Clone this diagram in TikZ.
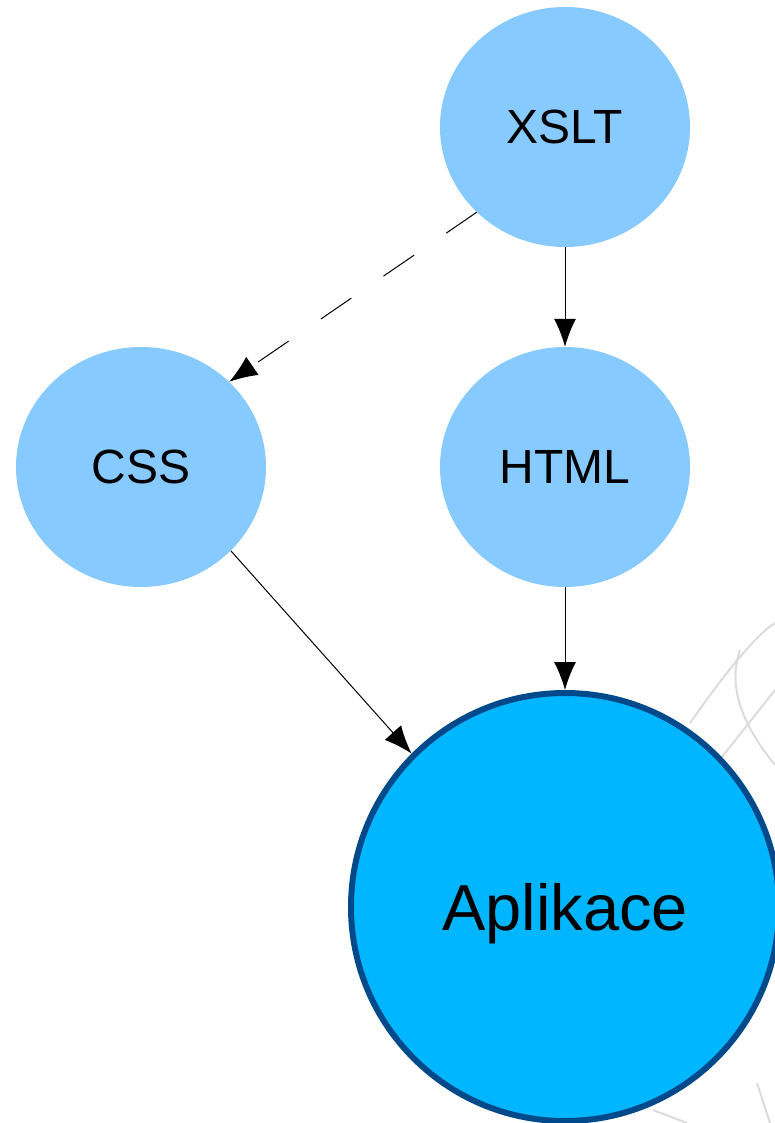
\documentclass[tikz,border=0pt]{standalone}
\usepackage{fontspec}
\setmainfont{Liberation Sans}
\usetikzlibrary{arrows.meta, shapes.geometric}
\definecolor{lightblue}{RGB}{135,202,255}
\definecolor{appblue}{RGB}{0,183,255}
\definecolor{darkblue}{RGB}{0,74,140}
\tikzset{>={Latex[length=28pt,width=22pt]}}
\tikzset{
  bubble/.style={ellipse, fill=lightblue, minimum width=250pt, minimum height=240pt,
    inner sep=0pt, font=\fontsize{48}{52}\selectfont},
  appnode/.style={circle, fill=appblue, draw=darkblue, line width=6pt, minimum size=428pt,
    inner sep=0pt, text depth=0pt, font=\fontsize{65}{70}\selectfont},
  sketch/.style={draw=black!14, line width=2pt},
  link/.style={->, line width=1pt}
}

\begin{document}
\begin{tikzpicture}[x=1pt,y=-1pt]
    \useasboundingbox (0,0) rectangle (775,1123);
    % faint sketch behind the big circle
    \draw[sketch] (775,623) .. controls (755,635) and (720,680) .. (690,723);
    \draw[sketch] (740,650) .. controls (728,685) and (740,722) .. (775,765);
    \draw[sketch] (775,690) -- (722,757);
    \draw[sketch] (653,1110) -- (687,1123);
    \draw[sketch] (757,1083) -- (770,1123);
    \node[bubble] (xslt) at (565,127) {XSLT};
    \node[bubble] (html) at (565,467) {HTML};
    \node[bubble] (css) at (141,467) {CSS};
    \node[appnode] (app) at (565,907) {Aplikace};
    \draw[link, dash pattern=on 37pt off 39pt] (xslt.224) -- (css.44);
    \draw[link] (xslt.south) -- (html.north);
    \draw[link] (html.south) -- (app.north);
    \draw[link] (css.-43) -- (app.135);
\end{tikzpicture}
\end{document}
